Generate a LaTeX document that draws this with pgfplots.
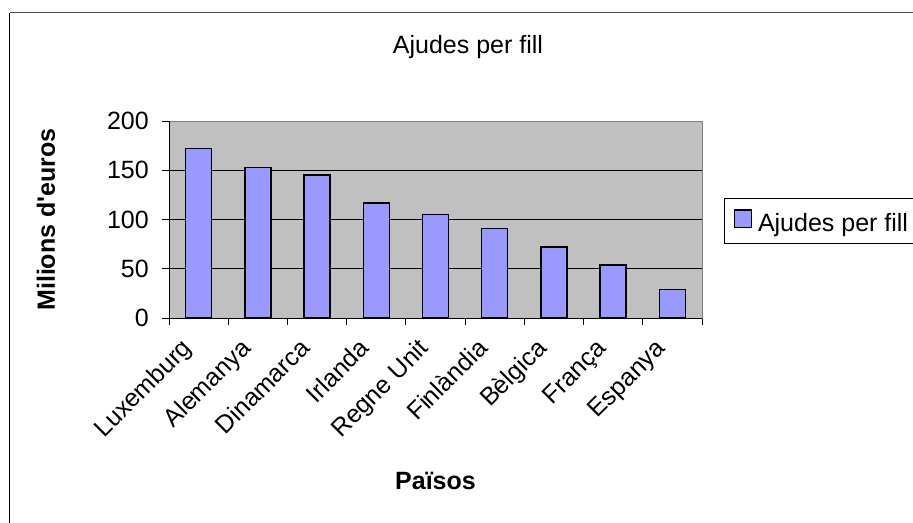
\documentclass[border=0pt]{standalone}
\usepackage{pgfplots}
\pgfplotsset{compat=1.18}
\usepackage{fontspec}
\setmainfont{Liberation Sans}
\newfontfamily\plainsans{Liberation Sans}
\definecolor{barblue}{HTML}{9999FF}
\definecolor{plotgray}{HTML}{C0C0C0}
\newcommand{\chartfont}{\fontsize{25bp}{30bp}\selectfont}
\begin{document}
\begin{tikzpicture}
\useasboundingbox (0bp,0bp) rectangle (913bp,-523bp);
\begin{scope}
\clip (0bp,0bp) rectangle (913bp,-523bp);
\draw[line width=1.5bp, black] (9.5bp,-600bp) -- (9.5bp,-12.5bp);
\draw[line width=1.5bp, black!70] (9.5bp,-12.5bp) -- (1000bp,-12.5bp);
\node[font=\chartfont, anchor=base] at (468bp,-53bp) {Ajudes per fill};
\begin{axis}[
  at={(169bp,-318bp)}, anchor=south west,
  scale only axis, width=533bp, height=197bp,
  xmin=-0.5, xmax=8.5, ymin=0, ymax=200,
  xtick={-0.5,0.5,...,8.5}, x tick label as interval,
  xticklabels={Luxemburg,Alemanya,Dinamarca,Irlanda,Regne Unit,Finlàndia,Bèlgica,França,Espanya},
  ytick={0,50,...,200},
  ymajorgrids, grid style={black, line width=0.9bp},
  axis background/.style={fill=plotgray},
  axis line style={draw=black!50, line width=1bp},
  tick align=outside, major tick length=7bp,
  tick style={black, line width=1bp},
  xtick pos=left, ytick pos=left,
  tick label style={font=\chartfont},
  /pgf/number format/assume math mode=true,
  yticklabel style={inner sep=0pt, xshift=-13bp},
  xticklabel style={xshift=-12bp, yshift=-18.5bp, rotate=45, anchor=east, inner sep=0pt, text height=18bp, text depth=0bp},
  xlabel={\bfseries Països},
  xlabel style={font=\chartfont, at={(axis description cs:0.5,-0.873)}, anchor=base},
  ylabel={\plainsans\bfseries Milions d'euros},
  ylabel style={font=\chartfont, at={(axis description cs:-0.2139,0.5)}, anchor=base, rotate=0},
  legend style={at={(1.0413,0.609)}, anchor=north west, draw=black, line width=1bp,
    font=\chartfont, inner xsep=9bp, inner ysep=10.5bp,
    nodes={inner sep=0pt},
    /tikz/every odd column/.append style={column sep=6bp}},
  legend image code/.code={\draw[fill=barblue, draw=black, line width=1.5bp] (0bp,-4bp) rectangle (17bp,13.5bp);},
]
\addplot[ybar, bar width=26bp, fill=barblue, draw=black, line width=1.5bp]
  coordinates {(0,172) (1,153) (2,145) (3,117) (4,105) (5,91) (6,72) (7,54) (8,29)};
\addlegendentry{Ajudes per fill}
\draw[black, line width=1bp] (rel axis cs:0,1) -- (rel axis cs:0,0) -- (rel axis cs:1,0);
\end{axis}
\end{scope}
\end{tikzpicture}
\end{document}
